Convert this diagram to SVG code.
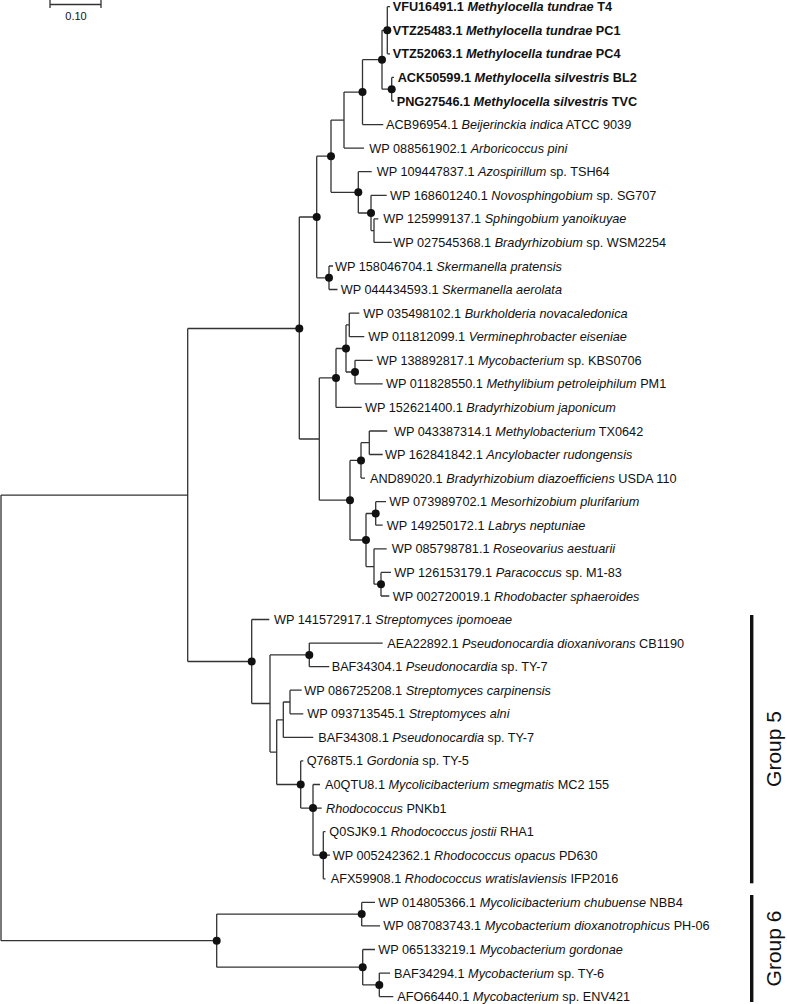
<svg xmlns="http://www.w3.org/2000/svg" width="787" height="1004" viewBox="0 0 787 1004">
<style>
.e{fill:none;stroke:#333;stroke-width:1.3}
.d{fill:#111}
.l{font-family:"Liberation Sans",Arial,sans-serif;font-size:12.7px;fill:#111}
.b{font-weight:bold}
.i{font-style:italic}
.g{font-family:"Liberation Sans",Arial,sans-serif;font-size:21px;fill:#111}
.s{font-family:"Liberation Sans",Arial,sans-serif;font-size:11px;fill:#111}
</style>
<rect width="787" height="1004" fill="#fff"/>
<g id="scale">
<path class="e" d="M50 4.5H101M50 0V8M101 0V8"/>
<text class="s" x="76" y="19.5" text-anchor="middle">0.10</text>
</g>
<g id="connectors">
<path class="e" d="M1 495.1V940.7M1 495.1H187.7M1 940.7H216.7
M187.7 328.5V661.5M187.7 328.5H299.3M187.7 661.5H251.7
M299.3 217V439M299.3 217H316.7M299.3 439H319.3
M316.7 156.2V277.8M316.7 156.2H331M316.7 277.8H329
M331 120.1V192.3M331 120.1H344M331 192.3H358.3
M344 92.1V148.1M344 92.1H362.5M344 148.1H364
M362.5 59.7V124.6M362.5 59.7H382M362.5 124.6H383.3
M382 30.3V89.2M382 30.3H387.3M382 89.2H391.7
M387.3 6.7V53.8M387.3 6.7H390M387.3 30.3H390M387.3 53.8H390
M391.7 77.4V101M391.7 77.4H394M391.7 101H394
M358.3 171.7V213M358.3 171.7H371.7M358.3 213H371
M371 195.3V230.6M371 195.3H386.7M371 230.6H374
M374 218.8V242.4M374 218.8H378.3M374 242.4H391.7
M329 266V289.5M329 266H333M329 289.5H337.5
M319.3 377.9V500.2M319.3 377.9H336M319.3 500.2H350
M336 348.5V407.4M336 348.5H346M336 407.4H361.7
M346 324.9V372M346 324.9H349.3M346 372H355
M349.3 313.1V336.7M349.3 313.1H359.3M349.3 336.7H364.3
M355 360.3V383.8M355 360.3H372.7M355 383.8H382.7
M350 460.4V540M350 460.4H361M350 540H366
M361 442.7V478.1M361 442.7H369.3M361 478.1H365
M369.3 431V454.5M369.3 431H387.3M369.3 454.5H382.7
M366 513.5V566.6M366 513.5H375.7M366 566.6H374
M375.7 501.7V525.2M375.7 501.7H386M375.7 525.2H382.7
M374 548.8V584.2M374 548.8H386.7M374 584.2H381
M381 572.4V596M381 572.4H391M381 596H389.3
M251.7 619.5V703.5M251.7 619.5H269.3M251.7 703.5H270
M270 654.9V752.1M270 654.9H309.3M270 752.1H276.7
M309.3 643.1V666.7M309.3 643.1H382.7M309.3 666.7H329.3
M276.7 719.8V784.5M276.7 719.8H283.3M276.7 784.5H300.7
M283.3 702V737.4M283.3 702H290M283.3 737.4H313.3
M290 690.2V713.8M290 690.2H301.7M290 713.8H303.3
M300.7 760.9V808.1M300.7 760.9H303.3M300.7 808.1H313
M313 784.5V855.2M313 784.5H320M313 808.1H321.7M313 855.2H323.3
M323.3 831.7V878.8M323.3 831.7H325.5M323.3 855.2H330M323.3 878.8H325.5
M216.7 914.1V967.2M216.7 914.1H361.7M216.7 967.2H362.7
M361.7 902.4V925.9M361.7 902.4H375M361.7 925.9H380
M362.7 949.5V984.9M362.7 949.5H375M362.7 984.9H379.3
M379.3 973.1V996.6M379.3 973.1H390M379.3 996.6H393.3"/>
</g>
<g id="nodes">
<circle class="d" cx="387.3" cy="30.3" r="4"/>
<circle class="d" cx="382" cy="59.7" r="4"/>
<circle class="d" cx="391.7" cy="89.2" r="4"/>
<circle class="d" cx="362.5" cy="92.1" r="4"/>
<circle class="d" cx="331" cy="156.2" r="4"/>
<circle class="d" cx="358.3" cy="192.3" r="4"/>
<circle class="d" cx="371" cy="213" r="4"/>
<circle class="d" cx="329" cy="277.8" r="4"/>
<circle class="d" cx="316.7" cy="217" r="4"/>
<circle class="d" cx="299.3" cy="328.5" r="4"/>
<circle class="d" cx="336" cy="377.9" r="4"/>
<circle class="d" cx="346" cy="348.5" r="4"/>
<circle class="d" cx="355" cy="372" r="4"/>
<circle class="d" cx="350" cy="500.2" r="4"/>
<circle class="d" cx="361" cy="460.4" r="4"/>
<circle class="d" cx="366" cy="540" r="4"/>
<circle class="d" cx="375.7" cy="513.5" r="4"/>
<circle class="d" cx="381" cy="584.2" r="4"/>
<circle class="d" cx="251.7" cy="661.5" r="4"/>
<circle class="d" cx="309.3" cy="654.9" r="4"/>
<circle class="d" cx="300.7" cy="784.5" r="4"/>
<circle class="d" cx="313" cy="808.1" r="4"/>
<circle class="d" cx="323.3" cy="855.2" r="4"/>
<circle class="d" cx="216.7" cy="940.7" r="4"/>
<circle class="d" cx="361.7" cy="914.1" r="4"/>
<circle class="d" cx="362.7" cy="967.2" r="4"/>
<circle class="d" cx="379.3" cy="984.9" r="4"/>
</g>
<g id="leaf0"><text class="l b" x="392.7" y="11.2">VFU16491.1 <tspan class="i">Methylocella tundrae</tspan> T4</text></g>
<g id="leaf1"><text class="l b" x="392.7" y="34.8">VTZ25483.1 <tspan class="i">Methylocella tundrae</tspan> PC1</text></g>
<g id="leaf2"><text class="l b" x="392.7" y="58.3">VTZ52063.1 <tspan class="i">Methylocella tundrae</tspan> PC4</text></g>
<g id="leaf3"><text class="l b" x="397.7" y="81.9">ACK50599.1 <tspan class="i">Methylocella silvestris</tspan> BL2</text></g>
<g id="leaf4"><text class="l b" x="396.7" y="105.5">PNG27546.1 <tspan class="i">Methylocella silvestris</tspan> TVC</text></g>
<g id="leaf5"><text class="l" x="386" y="129.1">ACB96954.1 <tspan class="i">Beijerinckia indica</tspan> ATCC 9039</text></g>
<g id="leaf6"><text class="l" x="369.3" y="152.6">WP 088561902.1 <tspan class="i">Arboricoccus pini</tspan></text></g>
<g id="leaf7"><text class="l" x="376.7" y="176.2">WP 109447837.1 <tspan class="i">Azospirillum</tspan> sp. TSH64</text></g>
<g id="leaf8"><text class="l" x="390" y="199.8">WP 168601240.1 <tspan class="i">Novosphingobium</tspan> sp. SG707</text></g>
<g id="leaf9"><text class="l" x="383.3" y="223.3">WP 125999137.1 <tspan class="i">Sphingobium yanoikuyae</tspan></text></g>
<g id="leaf10"><text class="l" x="393.3" y="246.9">WP 027545368.1 <tspan class="i">Bradyrhizobium</tspan> sp. WSM2254</text></g>
<g id="leaf11"><text class="l" x="335" y="270.5">WP 158046704.1 <tspan class="i">Skermanella pratensis</tspan></text></g>
<g id="leaf12"><text class="l" x="340.7" y="294">WP 044434593.1 <tspan class="i">Skermanella aerolata</tspan></text></g>
<g id="leaf13"><text class="l" x="363.3" y="317.6">WP 035498102.1 <tspan class="i">Burkholderia novacaledonica</tspan></text></g>
<g id="leaf14"><text class="l" x="368.3" y="341.2">WP 011812099.1 <tspan class="i">Verminephrobacter eiseniae</tspan></text></g>
<g id="leaf15"><text class="l" x="376.7" y="364.8">WP 138892817.1 <tspan class="i">Mycobacterium</tspan> sp. KBS0706</text></g>
<g id="leaf16"><text class="l" x="386" y="388.3">WP 011828550.1 <tspan class="i">Methylibium petroleiphilum</tspan> PM1</text></g>
<g id="leaf17"><text class="l" x="365" y="411.9">WP 152621400.1 <tspan class="i">Bradyrhizobium japonicum</tspan></text></g>
<g id="leaf18"><text class="l" x="394" y="435.5">WP 043387314.1 <tspan class="i">Methylobacterium</tspan> TX0642</text></g>
<g id="leaf19"><text class="l" x="385" y="459">WP 162841842.1 <tspan class="i">Ancylobacter rudongensis</tspan></text></g>
<g id="leaf20"><text class="l" x="370" y="482.6">AND89020.1 <tspan class="i">Bradyrhizobium diazoefficiens</tspan> USDA 110</text></g>
<g id="leaf21"><text class="l" x="389.3" y="506.2">WP 073989702.1 <tspan class="i">Mesorhizobium plurifarium</tspan></text></g>
<g id="leaf22"><text class="l" x="386.7" y="529.7">WP 149250172.1 <tspan class="i">Labrys neptuniae</tspan></text></g>
<g id="leaf23"><text class="l" x="391.7" y="553.3">WP 085798781.1 <tspan class="i">Roseovarius aestuarii</tspan></text></g>
<g id="leaf24"><text class="l" x="394.3" y="576.9">WP 126153179.1 <tspan class="i">Paracoccus</tspan> sp. M1-83</text></g>
<g id="leaf25"><text class="l" x="392.7" y="600.5">WP 002720019.1 <tspan class="i">Rhodobacter sphaeroides</tspan></text></g>
<g id="leaf26"><text class="l" x="274" y="624">WP 141572917.1 <tspan class="i">Streptomyces ipomoeae</tspan></text></g>
<g id="leaf27"><text class="l" x="387.3" y="647.6">AEA22892.1 <tspan class="i">Pseudonocardia dioxanivorans</tspan> CB1190</text></g>
<g id="leaf28"><text class="l" x="331.7" y="671.2">BAF34304.1 <tspan class="i">Pseudonocardia</tspan> sp. TY-7</text></g>
<g id="leaf29"><text class="l" x="304.3" y="694.7">WP 086725208.1 <tspan class="i">Streptomyces carpinensis</tspan></text></g>
<g id="leaf30"><text class="l" x="307.3" y="718.3">WP 093713545.1 <tspan class="i">Streptomyces alni</tspan></text></g>
<g id="leaf31"><text class="l" x="318.3" y="741.9">BAF34308.1 <tspan class="i">Pseudonocardia</tspan> sp. TY-7</text></g>
<g id="leaf32"><text class="l" x="306.7" y="765.4">Q768T5.1 <tspan class="i">Gordonia</tspan> sp. TY-5</text></g>
<g id="leaf33"><text class="l" x="325" y="789">A0QTU8.1 <tspan class="i">Mycolicibacterium smegmatis</tspan> MC2 155</text></g>
<g id="leaf34"><text class="l" x="326" y="812.6"><tspan class="i">Rhodococcus</tspan> PNKb1</text></g>
<g id="leaf35"><text class="l" x="329.3" y="836.2">Q0SJK9.1 <tspan class="i">Rhodococcus jostii</tspan> RHA1</text></g>
<g id="leaf36"><text class="l" x="332.7" y="859.7">WP 005242362.1 <tspan class="i">Rhodococcus opacus</tspan> PD630</text></g>
<g id="leaf37"><text class="l" x="330.7" y="883.3">AFX59908.1 <tspan class="i">Rhodococcus wratislaviensis</tspan> IFP2016</text></g>
<g id="leaf38"><text class="l" x="378.3" y="906.9">WP 014805366.1 <tspan class="i">Mycolicibacterium chubuense</tspan> NBB4</text></g>
<g id="leaf39"><text class="l" x="383.3" y="930.4">WP 087083743.1 <tspan class="i">Mycobacterium dioxanotrophicus</tspan> PH-06</text></g>
<g id="leaf40"><text class="l" x="378.3" y="954">WP 065133219.1 <tspan class="i">Mycobacterium gordonae</tspan></text></g>
<g id="leaf41"><text class="l" x="394" y="977.6">BAF34294.1 <tspan class="i">Mycobacterium</tspan> sp. TY-6</text></g>
<g id="leaf42"><text class="l" x="397.3" y="1001.1">AFO66440.1 <tspan class="i">Mycobacterium</tspan> sp. ENV421</text></g>
<g id="group5">
<rect x="750" y="615" width="3.4" height="268.3" fill="#111"/>
<text class="g" transform="translate(781 749) rotate(-90)" text-anchor="middle">Group 5</text>
</g>
<g id="group6">
<rect x="750" y="895" width="3.4" height="107" fill="#111"/>
<text class="g" transform="translate(781 948.5) rotate(-90)" text-anchor="middle">Group 6</text>
</g>
</svg>
